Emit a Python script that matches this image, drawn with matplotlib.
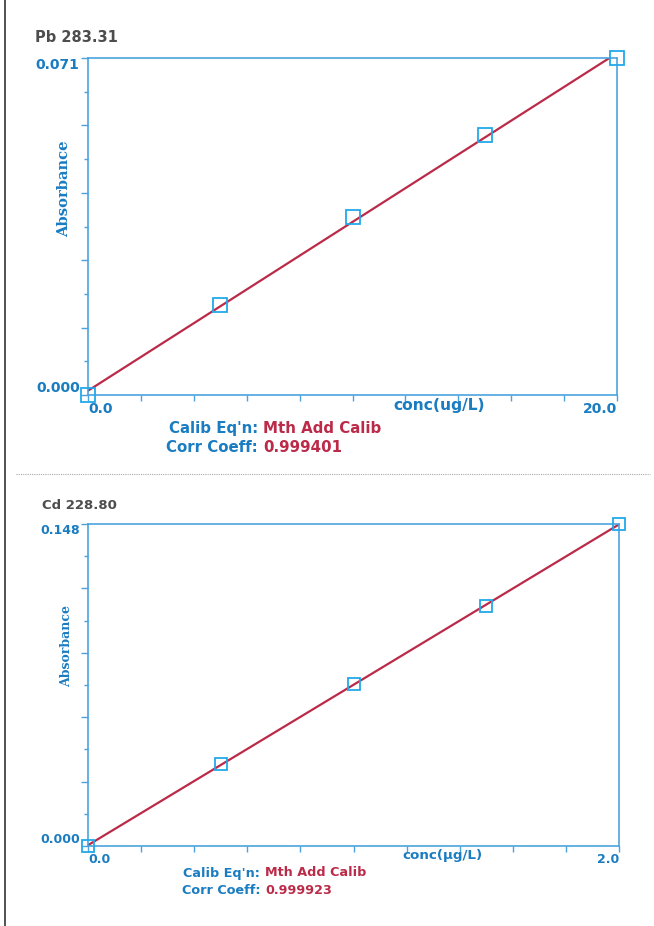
import matplotlib.pyplot as plt
import numpy as np
from matplotlib.lines import Line2D

# standard addition data, two elements
pb_conc = [0, 5, 10, 15, 20]
pb_abs = [0.0, 0.0190, 0.0375, 0.0548, 0.0710]
cd_conc = [0, 0.5, 1.0, 1.5, 2.0]
cd_abs = [0.0, 0.0377, 0.0745, 0.1103, 0.1480]

pb_title = "Pb 283.31"
cd_title = "Cd 228.80"
pb_xlabel = "conc(ug/L)"
cd_xlabel = "conc(µg/L)"
pb_corr = "0.999401"
cd_corr = "0.999923"
calib_eqn = "Mth Add Calib"

spine_blue = '#4aa3df'
label_blue = '#1a7cc1'
marker_blue = '#22a9ea'
line_red = '#bb2a48'
title_gray = '#4d4d4d'

W, H = 654, 926
fig = plt.figure(figsize=(W / 100, H / 100), dpi=100)


def px(x, y):
    # pixel position -> figure fraction
    return x / W, 1 - y / H


def panel(rect, conc, absb, ymax, xfmt, yfmt, xlabel, xlab_pos, absb_pos, fs, xlab_fs, absb_fs, msize):
    ax = fig.add_axes(rect)
    xmax = conc[-1]
    ax.set_xlim(0, xmax)
    ax.set_ylim(0, ymax)

    # fitted calibration line
    m, b = np.polyfit(conc, absb, 1)
    xf = np.array([0, xmax])
    ax.plot(xf, m * xf + b, color=line_red, lw=1.6, zorder=2)
    ax.plot(conc, absb, 's', ms=msize, mfc='none', mec=marker_blue, mew=1.3,
            clip_on=False, zorder=3)

    for s in ax.spines.values():
        s.set_color(spine_blue)
        s.set_linewidth(1.2)

    yt = np.linspace(0, ymax, 6)
    ax.set_yticks(yt)
    ax.set_yticklabels([yfmt % yt[0]] + [''] * 4 + [yfmt % yt[-1]])
    ax.set_yticks(np.linspace(0, ymax, 11), minor=True)
    xt = np.linspace(0, xmax, 11)
    ax.set_xticks(xt)
    ax.set_xticklabels([xfmt % xt[0]] + [''] * 9 + [xfmt % xt[-1]])

    ax.tick_params(axis='y', which='major', direction='out', length=5, width=1,
                   color=spine_blue, pad=1, labelsize=fs, labelcolor=label_blue)
    ax.tick_params(axis='y', which='minor', direction='out', length=3, width=1,
                   color=spine_blue)
    ax.tick_params(axis='x', which='major', direction='out', length=4, width=1,
                   color=spine_blue, pad=1, labelsize=fs, labelcolor=label_blue)
    for t in ax.get_yticklabels() + ax.get_xticklabels():
        t.set_fontweight('bold')
    yl = ax.yaxis.get_major_ticks()
    yl[0].label1.set_va('bottom')
    yl[-1].label1.set_va('top')
    xl = ax.xaxis.get_major_ticks()
    xl[0].label1.set_ha('left')
    xl[-1].label1.set_ha('right')

    ax.set_xlabel(xlabel, color=label_blue, fontsize=xlab_fs, fontweight='bold')
    ax.xaxis.set_label_coords(xlab_pos, -0.010)
    ax.text(absb_pos[0], absb_pos[1], "Absorbance", transform=ax.transAxes,
            rotation=90, ha='center', va='center', color=label_blue,
            fontsize=absb_fs, fontweight='bold', family='DejaVu Serif')
    return ax


panel([88 / W, 1 - 395 / H, 529 / W, 337 / H], pb_conc, pb_abs, 0.071,
      '%.1f', '%.3f', pb_xlabel, 0.664, (-0.045, 0.611), 10, 11.2, 10.6, 10)
panel([88 / W, 1 - 846 / H, 531 / W, 322 / H], cd_conc, cd_abs, 0.148,
      '%.1f', '%.3f', cd_xlabel, 0.667, (-0.040, 0.621), 9, 9.7, 9.0, 9)

# panel titles
fig.text(*px(35, 38), pb_title, color=title_gray, fontsize=10.5, fontweight='bold',
         ha='left', va='center')
fig.text(*px(42, 505), cd_title, color=title_gray, fontsize=9.5, fontweight='bold',
         ha='left', va='center')

# calibration info under each panel
for (xc, y1, y2, corr, fs) in [(258, 428, 447, pb_corr, 10.8), (260, 873, 891, cd_corr, 9.2)]:
    kw = dict(fontsize=fs, fontweight='bold', va='center')
    fig.text(*px(xc, y1), "Calib Eq'n:", color=label_blue, ha='right', **kw)
    fig.text(*px(xc + 5, y1), calib_eqn, color=line_red, ha='left', **kw)
    fig.text(*px(xc, y2), "Corr Coeff:", color=label_blue, ha='right', **kw)
    fig.text(*px(xc + 5, y2), corr, color=line_red, ha='left', **kw)

# page border on the left and dotted separator
fig.add_artist(Line2D([5.5 / W, 5.5 / W], [0, 1], color='#333333', lw=1.2))
fig.add_artist(Line2D([16 / W, 650 / W], [1 - 474 / H, 1 - 474 / H], color='#aaaaaa',
                      lw=0.8, ls=(0, (1, 1))))

fig.savefig('out.png', dpi=100)
